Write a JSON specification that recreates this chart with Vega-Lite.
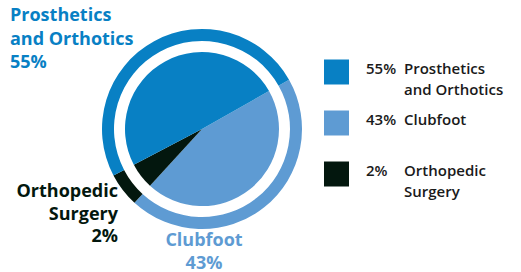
{
  "$schema": "https://vega.github.io/schema/vega-lite/v6.json",
  "background": "white",
  "padding": {"left": 10, "top": 7, "right": 5, "bottom": 0},
  "bounds": "flush",
  "spacing": 22,
  "config": {"view": {"stroke": null}, "font": "Open Sans"},
  "datasets": {
    "shares": [
      {"category": "Clubfoot", "share": 45, "pct": "43%", "label": "Clubfoot\n43%", "legend": "Clubfoot"},
      {"category": "Orthopedic Surgery", "share": 5.5, "pct": "2%", "label": "Orthopedic\nSurgery\n2%", "legend": "Orthopedic\nSurgery"},
      {"category": "Prosthetics and Orthotics", "share": 49.5, "pct": "55%", "label": "Prosthetics\nand Orthotics\n55%", "legend": "Prosthetics\nand Orthotics"}
    ]
  },
  "hconcat": [
    {
      "width": 200,
      "height": 200,
      "data": {"name": "shares"},
      "encoding": {
        "theta": {"field": "share", "type": "quantitative", "stack": true, "scale": {"range": [1.056, 7.339]}},
        "color": {
          "field": "category", "type": "nominal",
          "sort": ["Clubfoot", "Orthopedic Surgery", "Prosthetics and Orthotics"],
          "scale": {"domain": ["Clubfoot", "Orthopedic Surgery", "Prosthetics and Orthotics"], "range": ["#5e9bd3", "#03170e", "#0880c4"]},
          "legend": null
        }
      },
      "layer": [
        {"mark": {"type": "arc", "outerRadius": 77}},
        {"mark": {"type": "arc", "innerRadius": 88, "outerRadius": 100}},
        {
          "transform": [{"filter": "datum.category === 'Prosthetics and Orthotics'"}],
          "mark": {"type": "text", "align": "left", "baseline": "top", "dx": -192, "dy": -122, "fontSize": 18, "fontWeight": "bold", "lineBreak": "\n", "lineHeight": 23.5},
          "encoding": {"theta": null, "text": {"field": "label"}}
        },
        {
          "transform": [{"filter": "datum.category === 'Orthopedic Surgery'"}],
          "mark": {"type": "text", "align": "right", "baseline": "top", "dx": -84, "dy": 54, "fontSize": 18, "fontWeight": "bold", "lineBreak": "\n", "lineHeight": 22.5},
          "encoding": {"theta": null, "text": {"field": "label"}}
        },
        {
          "transform": [{"filter": "datum.category === 'Clubfoot'"}],
          "mark": {"type": "text", "align": "center", "baseline": "top", "dx": 2, "dy": 103, "fontSize": 18, "fontWeight": "bold", "lineBreak": "\n", "lineHeight": 23},
          "encoding": {"theta": null, "text": {"field": "label"}}
        }
      ]
    },
    {
      "width": 25,
      "height": 188,
      "data": {"name": "shares"},
      "encoding": {
        "y": {"field": "category", "type": "nominal", "sort": ["Prosthetics and Orthotics", "Clubfoot", "Orthopedic Surgery"], "scale": {"type": "point", "padding": 0.843}, "axis": null}
      },
      "layer": [
        {
          "mark": {"type": "square", "size": 625, "opacity": 1, "filled": true},
          "encoding": {
            "color": {
              "field": "category", "type": "nominal",
              "scale": {"domain": ["Clubfoot", "Orthopedic Surgery", "Prosthetics and Orthotics"], "range": ["#5e9bd3", "#03170e", "#0880c4"]},
              "legend": null
            }
          }
        },
        {
          "mark": {"type": "text", "align": "left", "baseline": "top", "dx": 29.5, "dy": -10, "fontSize": 15, "fontWeight": 600, "color": "#1a1a1a"},
          "encoding": {"text": {"field": "pct"}}
        },
        {
          "mark": {"type": "text", "align": "left", "baseline": "top", "dx": 67.5, "dy": -10, "fontSize": 15, "fontWeight": 600, "color": "#1a1a1a", "lineBreak": "\n", "lineHeight": 21},
          "encoding": {"text": {"field": "legend"}}
        }
      ]
    }
  ]
}
